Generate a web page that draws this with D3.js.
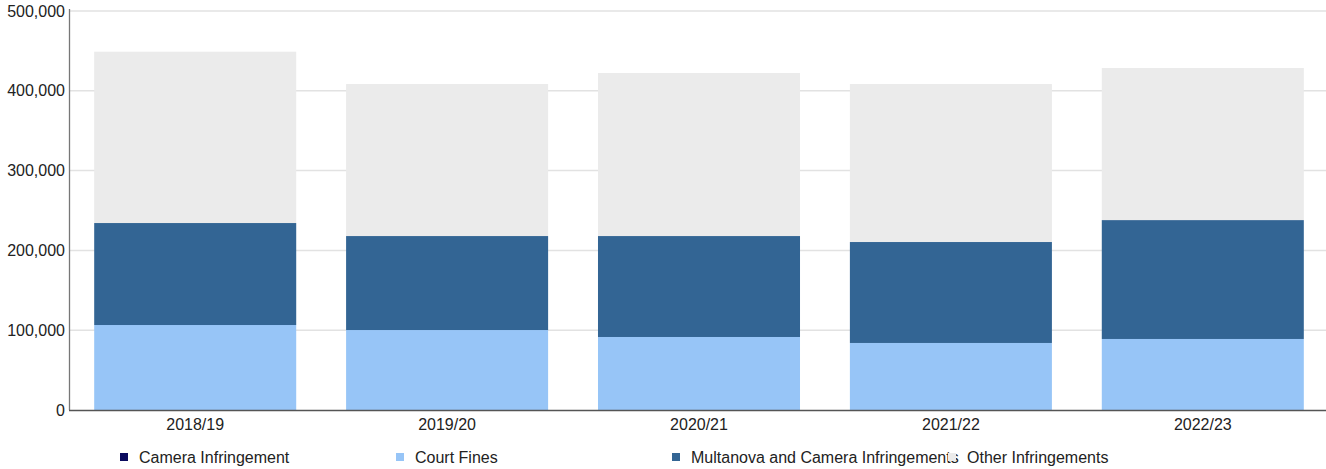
<!DOCTYPE html>
<html lang="en">
<head>
    <meta charset="UTF-8">
    <title>Infringements by year</title>
    <script src="https://d3js.org/d3.v7.min.js"></script>
    <style>
        * { margin: 0; padding: 0; box-sizing: border-box; }
        body { background: #fff; font-family: Arial, "Liberation Sans", sans-serif; }
        svg text { fill: #222; font-size: 16px; }
    </style>
</head>
<body>
    <div id="chart"></div>
    <script>
        // Data
        const years = ["2018/19", "2019/20", "2020/21", "2021/22", "2022/23"];
        const series = ["Camera Infringement", "Court Fines", "Multanova and Camera Infringements", "Other Infringements"];
        const cameraInfringement = [0, 0, 0, 0, 0];
        const courtFines = [106500, 100200, 91500, 84000, 89000];
        const multanova = [127800, 117800, 126500, 126500, 149000];
        const otherInfringements = [214700, 190500, 204300, 198000, 190600];
        const colors = ["#0b0b5e", "#97c5f7", "#336594", "#ebebeb"];
        const yTicks = [0, 100000, 200000, 300000, 400000, 500000];

        const width = 1326, height = 469;
        const margin = { top: 11, right: -3, bottom: 59, left: 69 };

        const rows = years.map((y, i) => ({
            year: y,
            [series[0]]: cameraInfringement[i],
            [series[1]]: courtFines[i],
            [series[2]]: multanova[i],
            [series[3]]: otherInfringements[i]
        }));
        const stacked = d3.stack().keys(series)(rows);

        const svg = d3.select("#chart").append("svg")
            .attr("width", width)
            .attr("height", height);

        const x = d3.scaleBand()
            .domain(years)
            .range([margin.left, width - margin.right])
            .paddingInner(0.198)
            .paddingOuter(0.1);

        const y = d3.scaleLinear()
            .domain([0, 500000])
            .range([height - margin.bottom, margin.top]);

        // grid lines
        svg.append("g")
            .selectAll("line")
            .data(yTicks.slice(1))
            .join("line")
            .attr("x1", margin.left)
            .attr("x2", width)
            .attr("y1", d => y(d))
            .attr("y2", d => y(d))
            .attr("stroke", "#e2e2e2")
            .attr("stroke-width", 1.5);

        // bars
        svg.append("g")
            .selectAll("g")
            .data(stacked)
            .join("g")
            .attr("fill", (d, i) => colors[i])
            .selectAll("rect")
            .data(d => d)
            .join("rect")
            .attr("x", d => x(d.data.year))
            .attr("width", x.bandwidth())
            .attr("y", d => y(d[1]))
            .attr("height", d => y(d[0]) - y(d[1]));

        // y axis
        const yAxis = svg.append("g")
            .attr("transform", `translate(${margin.left},0)`)
            .call(d3.axisLeft(y).tickValues(yTicks).tickFormat(d3.format(",")).tickSize(0).tickPadding(4));
        yAxis.select(".domain").attr("stroke", "#777").attr("stroke-width", 1.3)
            .attr("d", `M0.5,${y(0)}V${margin.top - 2}`);
        yAxis.selectAll("text").style("font-size", "16px").attr("fill", "#222");

        // x axis
        const xAxis = svg.append("g")
            .attr("transform", `translate(0,${y(0)})`)
            .call(d3.axisBottom(x).tickSize(0).tickPadding(9));
        xAxis.select(".domain").attr("stroke", "#555").attr("stroke-width", 1.3)
            .attr("d", `M${margin.left},0.5H${width}`);
        xAxis.selectAll("text").style("font-size", "16px").attr("fill", "#222");

        // legend
        const legend = svg.append("g")
            .selectAll("g")
            .data(series)
            .join("g")
            .attr("transform", (d, i) => `translate(${120 + i * 276},457)`);
        legend.append("rect")
            .attr("x", 0).attr("y", -4)
            .attr("width", 8).attr("height", 8)
            .attr("fill", (d, i) => colors[i]);
        legend.append("text")
            .attr("x", 19)
            .attr("dy", "0.35em")
            .style("font-size", "16px")
            .text(d => d);
    </script>
</body>
</html>
